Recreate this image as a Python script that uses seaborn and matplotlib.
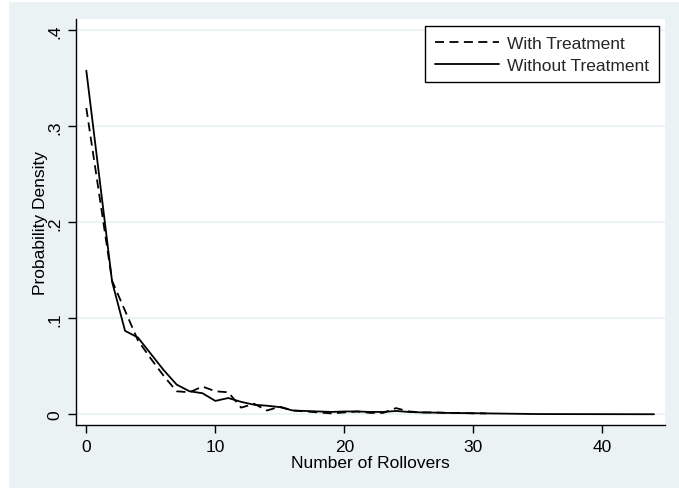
import matplotlib
matplotlib.use("Agg")
import matplotlib.pyplot as plt
import seaborn as sns
import pandas as pd
from matplotlib.patches import Rectangle

# ---- data ----
x_without = [0, 2, 3, 4, 5, 6, 7, 8, 9, 10, 11, 12, 13, 14, 15, 16, 17, 18, 19, 20,
             21, 22, 23, 24, 25, 26, 27, 28, 29, 30, 31, 35, 44]
y_without = [0.358, 0.138, 0.087, 0.080, 0.063, 0.046, 0.031, 0.024, 0.022, 0.014,
             0.017, 0.013, 0.010, 0.009, 0.0075, 0.004, 0.0035, 0.003, 0.0025, 0.003,
             0.003, 0.0025, 0.0025, 0.0035, 0.0025, 0.002, 0.0018, 0.0015, 0.0013,
             0.0012, 0.001, 0.0003, 0.0001]

x_with = [0, 2, 3, 4, 5, 6, 7, 8, 9, 10, 11, 12, 13, 14, 15, 16, 17, 18, 19, 20,
          21, 22, 23, 24, 25, 26, 27, 28, 29, 30, 31]
y_with = [0.319, 0.139, 0.108, 0.077, 0.058, 0.040, 0.024, 0.023, 0.029, 0.024,
          0.023, 0.007, 0.011, 0.004, 0.008, 0.004, 0.003, 0.002, 0.001, 0.002,
          0.003, 0.0015, 0.0015, 0.0065, 0.003, 0.002, 0.002, 0.0015, 0.0015,
          0.001, 0.001]

x_ticks = [0, 10, 20, 30, 40]
y_ticks = [0, 0.1, 0.2, 0.3, 0.4]
y_tick_labels = ["0", ".1", ".2", ".3", ".4"]
label_with = "With Treatment"
label_without = "Without Treatment"
x_label = "Number of Rollovers"
y_label = "Probability Density"

df_with = pd.DataFrame({"x": x_with, "y": y_with})
df_without = pd.DataFrame({"x": x_without, "y": y_without})

# ---- style ----
sns.set_theme(style="white")
plt.rcParams["font.family"] = ["Liberation Sans", "DejaVu Sans"]

BG = "#EAF2F3"
W, H = 679, 489
FS = 12.5
fig = plt.figure(figsize=(W / 100, H / 100), dpi=100, facecolor=BG)

# white margins (left / top) as in the reference crop
fig.patches.append(Rectangle((0, 0), 9 / W, 1, transform=fig.transFigure,
                             facecolor="white", edgecolor="none", zorder=0))
fig.patches.append(Rectangle((0, 1 - 3 / H), 1, 3 / H, transform=fig.transFigure,
                             facecolor="white", edgecolor="none", zorder=0))

left, right, bottom, top = 76 / W, 665 / W, 1 - 426 / H, 1 - 20 / H
ax = fig.add_axes([left, bottom, right - left, top - bottom])
ax.set_facecolor("white")

sns.lineplot(data=df_with, x="x", y="y", ax=ax, color="black", lw=1.3,
             linestyle=(0, (5, 3)), label=label_with)
sns.lineplot(data=df_without, x="x", y="y", ax=ax, color="black", lw=1.3,
             linestyle="-", label=label_without)

ax.set_xlim(-0.8, 44.85)
ax.set_ylim(-0.0111, 0.4118)
ax.set_xticks(x_ticks)
ax.set_yticks(y_ticks)
ax.set_yticklabels(y_tick_labels, rotation=90, va="center")
ax.yaxis.grid(True, color=BG, lw=1.3)
ax.xaxis.grid(False)
ax.set_axisbelow(True)

for s in ["top", "right"]:
    ax.spines[s].set_visible(False)
for s in ["left", "bottom"]:
    ax.spines[s].set_color("black")
    ax.spines[s].set_linewidth(1.0)

ax.tick_params(axis="both", which="major", direction="out", length=6, width=1,
               color="black", labelsize=FS, labelcolor="black", pad=4,
               bottom=True, left=True)
ax.set_xlabel(x_label, fontsize=FS, color="black", labelpad=1)
ax.set_ylabel(y_label, fontsize=FS, color="black", labelpad=-1)

leg = ax.legend(loc="upper right", bbox_to_anchor=((659 - 76) / (665 - 76), 1 - (27 - 20) / (426 - 20)),
                frameon=True, fancybox=False, fontsize=FS, handlelength=3.7,
                handletextpad=0.5, borderpad=0.55, labelspacing=0.4, borderaxespad=0)
leg.get_frame().set_edgecolor("black")
leg.get_frame().set_linewidth(1.0)
leg.get_frame().set_facecolor("white")
leg.get_frame().set_alpha(1)

fig.savefig("out.png", dpi=100, facecolor=fig.get_facecolor())
